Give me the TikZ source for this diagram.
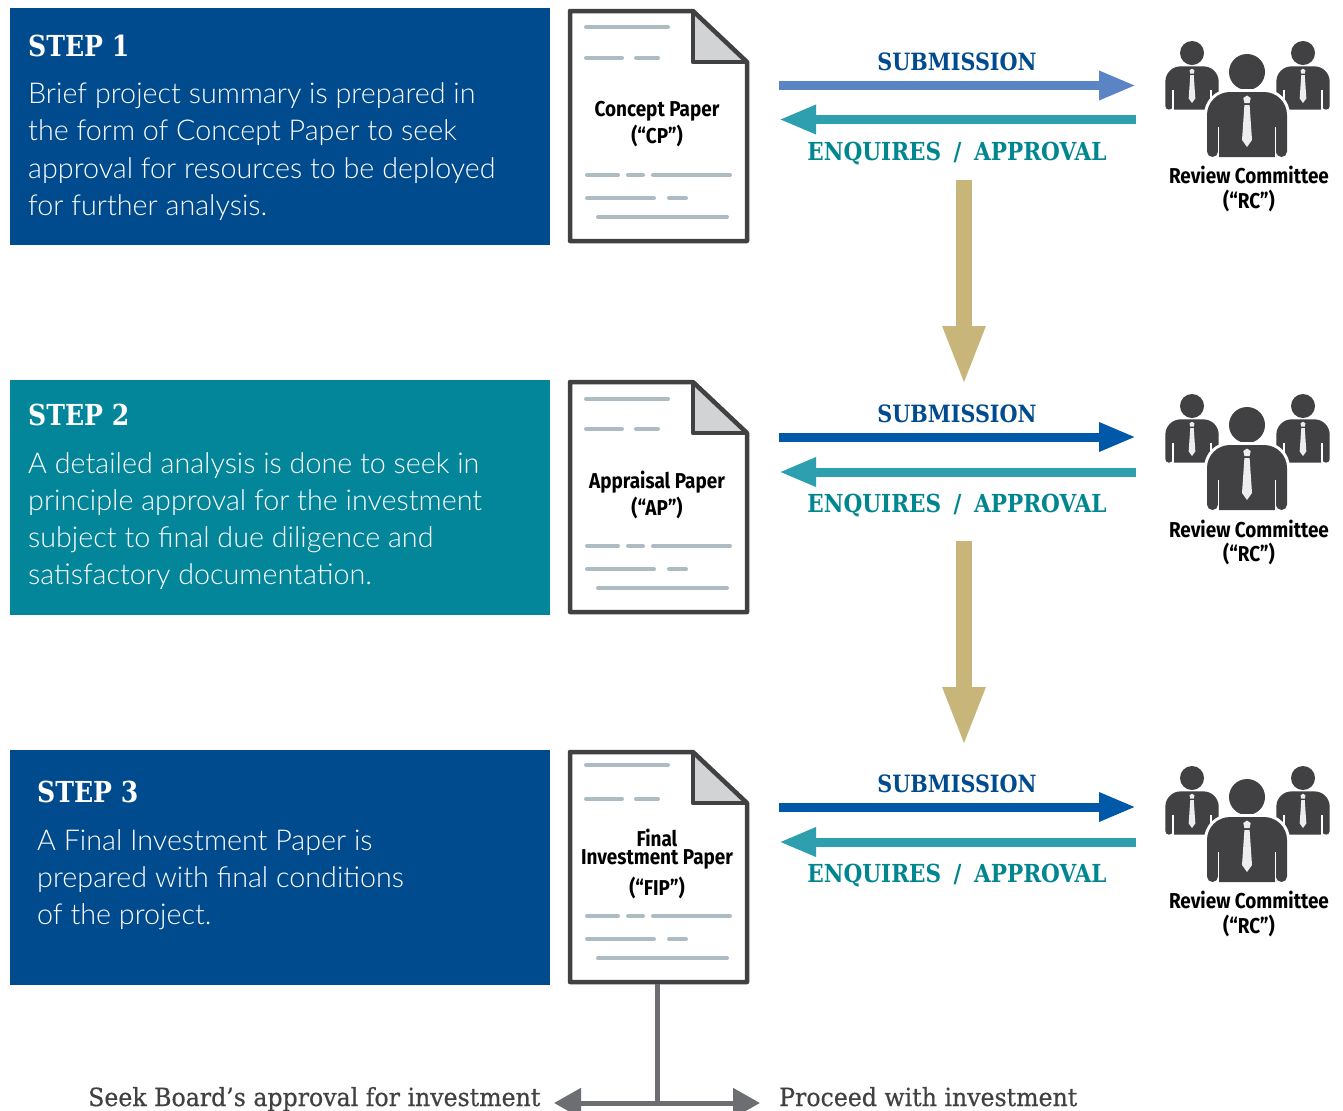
\documentclass[tikz,border=0pt]{standalone}
\usepackage{fontspec}
\setmainfont{Lato}
\newfontfamily\bodyf{Lato Light}
\newfontfamily\slabhead[FakeStretch=0.87]{DejaVu Serif}
\newfontfamily\slabplain[FakeStretch=0.945,FakeBold=0.5]{DejaVu Serif}
\newfontfamily\labelf[FakeStretch=0.88]{Fira Sans}
\definecolor{navy}{HTML}{004B8D}
\definecolor{tealbox}{HTML}{04869A}
\definecolor{sublight}{HTML}{5B84C4}
\definecolor{subdark}{HTML}{0059A8}
\definecolor{enqarrow}{HTML}{2E9FAE}
\definecolor{enqtext}{HTML}{00868F}
\definecolor{tanarrow}{HTML}{C7B57A}
\definecolor{docedge}{HTML}{414042}
\definecolor{docfold}{HTML}{D1D3D4}
\definecolor{docline}{HTML}{ADBCC2}
\definecolor{stemgrey}{HTML}{6D6E71}
\definecolor{tiegrey}{HTML}{EDEDED}
\usetikzlibrary{arrows.meta,calc}
\tikzset{
  x=1bp,y=-1bp,
  stephead/.style={anchor=base west,inner sep=0pt,text=white,font=\fontsize{29}{34}\slabhead\bfseries},
  stepbody/.style={anchor=north west,inner sep=0pt,align=left,text=white,font=\fontsize{28.7bp}{37.3bp}\bodyf},
  doctext/.style={inner sep=0pt,align=center,text=black,font=\fontsize{21.5bp}{27bp}\labelf\bfseries},
  rctext/.style={inner sep=0pt,align=center,text=black,font=\fontsize{21.5bp}{24.5bp}\labelf\bfseries},
  subtext/.style={inner sep=0pt,text=navy,font=\fontsize{23.8bp}{28bp}\slabhead\bfseries},
  enqtxt/.style={inner sep=0pt,text=enqtext,font=\fontsize{24.8bp}{28bp}\slabhead\bfseries},
  outcome/.style={inner sep=0pt,anchor=base west,text=docedge,font=\fontsize{25bp}{30bp}\slabplain},
  docrule/.style={line width=4bp,line cap=round,draw=docline},
  hflow/.style={line width=9bp,-{Triangle[length=37bp,width=27bp]}},
  vflow/.style={line width=16bp,draw=tanarrow,-{Triangle[length=60bp,width=38.5bp]}},
  forkflow/.style={line width=5bp,draw=stemgrey,{Triangle[length=27bp,width=29bp]}-{Triangle[length=27bp,width=29bp]}},
}
% #1 name, #2 y offset, #3 first rule y
\newcommand{\docicon}[3]{%
  \begin{scope}[yshift=-#2bp]
    \fill[docfold] (693,11) -- (747,62) -- (693,62) -- cycle;
    \draw[docedge,line width=4.5bp,line join=round] (570,11) -- (693,11) -- (747,62) -- (747,241) -- (570,241) -- cycle;
    \draw[docedge,line width=4.5bp,line join=round] (693,11) -- (693,62) -- (747,62);
    \draw[docrule] (586,#3) -- (668,#3);
    \draw[docrule] (586,58) -- (622,58) (636,58) -- (658,58);
    \draw[docrule] (587,175) -- (618,175) (628,175) -- (643,175) (653,175) -- (730,175);
    \draw[docrule] (587,198) -- (654,198) (669,198) -- (686,198);
    \draw[docrule] (598,217) -- (727,217);
    \coordinate (#1) at (657,243);
  \end{scope}}
\newcommand{\person}[4]{% cx, head cy, scale, white outline width
  \begin{scope}[shift={(#1,#2)},yscale=#3,xscale=#3]
    \fill[docedge] (0,0) circle (18);
    \fill[docedge,preaction={draw=white,line width=#4}] (-40,79.5) -- (-40,43)
      arc[start angle=180,end angle=270,radius=23] -- (17,20)
      arc[start angle=270,end angle=360,radius=23] -- (40,79.5)
      arc[start angle=0,end angle=180,radius=5.5] -- (29,85) -- (-29,85) -- (-29,79.5)
      arc[start angle=0,end angle=180,radius=5.5] -- cycle;
    \draw[white,line width=1.5bp] (-28.5,55) -- (-28.5,85.5) (28.5,55) -- (28.5,85.5);
    \fill[tiegrey] (0,23.5) -- (3.7,26) -- (2.6,31) -- (-2.6,31) -- (-3.7,26) -- cycle;
    \fill[tiegrey] (-2.6,33) -- (2.6,33) -- (5,68) -- (0,75) -- (-5,68) -- cycle;
  \end{scope}}
\newcommand{\committee}[1]{% y offset
  \begin{scope}[yshift=-#1bp]
    \person{1192}{53}{0.667}{0.01bp}
    \person{1303}{53}{0.667}{0.01bp}
    \person{1247}{72}{1}{6bp}
  \end{scope}}
\begin{document}
\begin{tikzpicture}
\useasboundingbox (0,0) rectangle (1343,1110);
\clip (0,0) rectangle (1343,1110);
\fill[white] (0,0) rectangle (1343,1110);

% step boxes
\fill[navy] (10,8) rectangle (550,245);
\fill[tealbox] (10,380) rectangle (550,615);
\fill[navy] (10,750) rectangle (550,985);

\node[stephead] (s1h) at (28,56) {STEP 1};
\node[stepbody] (s1b) at (28,82.5) {Brief project summary is prepared in\\the form of Concept Paper to seek\\approval for resources to be deployed\\for further analysis.};
\node[stephead] (s2h) at (28,425) {STEP 2};
\node[stepbody] (s2b) at (28,452) {A detailed analysis is done to seek in\\principle approval for the investment\\subject to final due diligence and\\satisfactory documentation.};
\node[stephead] (s3h) at (37,802) {STEP 3};
\node[stepbody] (s3b) at (37,829) {A Final Investment Paper is\\prepared with final conditions\\of the project.};

% documents
\docicon{d1}{0}{27}
\docicon{d2}{371}{28}
\docicon{d3}{741}{24}
\node[doctext] (d1t) at (657,124) {Concept Paper\\(“CP”)};
\node[doctext] (d2t) at (657,495) {Appraisal Paper\\(“AP”)};
\node[doctext,font=\fontsize{21.5bp}{18bp}\labelf\bfseries] (d3t) at (657,864) {Final\\Investment Paper\\[6bp](“FIP”)};

% committees
\committee{0}
\committee{353}
\committee{725}
\node[rctext] (r1) at (1249,189) {Review Committee\\(“RC”)};
\node[rctext] (r2) at (1249,542.5) {Review Committee\\(“RC”)};
\node[rctext] (r3) at (1249,914) {Review Committee\\(“RC”)};

% horizontal arrows
\coordinate (a1l) at (779,85.5); \coordinate (a1r) at (1136,85.5);
\coordinate (b1l) at (779,119.5); \coordinate (b1r) at (1136,119.5);
\coordinate (a2l) at (779,437); \coordinate (a2r) at (1136,437);
\coordinate (b2l) at (779,472); \coordinate (b2r) at (1136,472);
\coordinate (a3l) at (779,807); \coordinate (a3r) at (1136,807);
\coordinate (b3l) at (779,842); \coordinate (b3r) at (1136,842);
\draw[hflow,draw=sublight] (a1l) -- (a1r);
\draw[hflow,draw=enqarrow] (b1r) -- (b1l);
\draw[hflow,draw=subdark] (a2l) -- (a2r);
\draw[hflow,draw=enqarrow] (b2r) -- (b2l);
\draw[hflow,draw=subdark] (a3l) -- (a3r);
\draw[hflow,draw=enqarrow] (b3r) -- (b3l);
\node[subtext] (st1) at (957,62) {SUBMISSION};
\node[enqtxt] (et1) at (957,153.5) {ENQUIRES\hspace{5bp} / \hspace{5bp}APPROVAL};
\node[subtext] (st2) at (957,414) {SUBMISSION};
\node[enqtxt] (et2) at (957,505.5) {ENQUIRES\hspace{5bp} / \hspace{5bp}APPROVAL};
\node[subtext] (st3) at (957,784) {SUBMISSION};
\node[enqtxt] (et3) at (957,875.5) {ENQUIRES\hspace{5bp} / \hspace{5bp}APPROVAL};

% vertical arrows
\coordinate (v1a) at (964,180); \coordinate (v1b) at (964,386);
\coordinate (v2a) at (964,541); \coordinate (v2b) at (964,747);
\draw[vflow] (v1a) -- (v1b);
\draw[vflow] (v2a) -- (v2b);

% outcome fork
\coordinate (forkl) at (554,1103); \coordinate (forkr) at (760,1103); \coordinate (forkm) at (657,1103);
\draw[line width=5bp,draw=stemgrey] (d3) -- (forkm);
\draw[forkflow] (forkl) -- (forkr);
\node[outcome] (o1) at (88,1106) {Seek Board’s approval for investment};
\node[outcome] (o2) at (779,1106) {Proceed with investment};
\end{tikzpicture}
\end{document}
